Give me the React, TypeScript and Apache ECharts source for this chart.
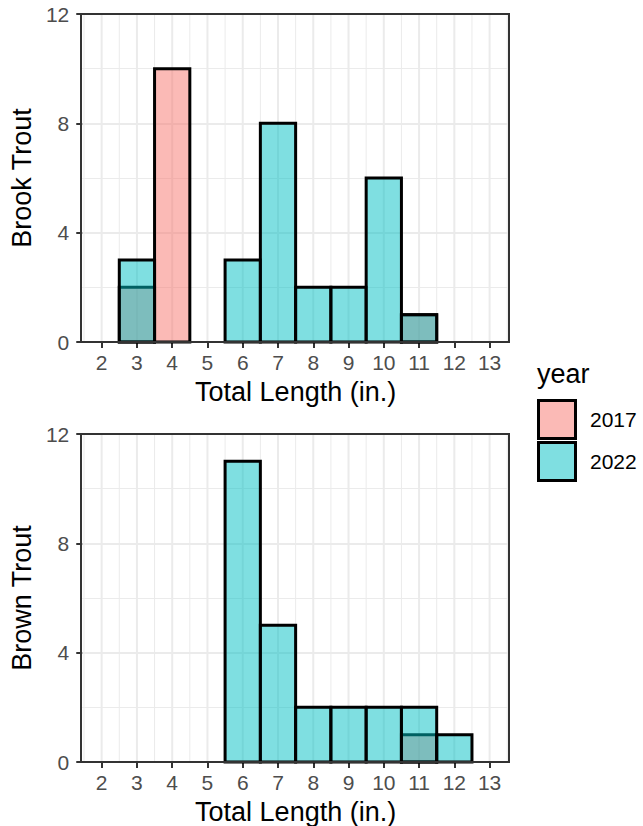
import React, { useEffect, useRef } from "react";
import * as echarts from "echarts";

// ---- data ----
const xTicks = [2, 3, 4, 5, 6, 7, 8, 9, 10, 11, 12, 13];
const xMinor = [1.5, 2.5, 3.5, 4.5, 5.5, 6.5, 7.5, 8.5, 9.5, 10.5, 11.5, 12.5, 13.5];
const yTicks = [0, 4, 8, 12];
const years = ["2017", "2022"];

const brookX2017 = [3, 4, 11];
const brookN2017 = [2, 10, 1];
const brookX2022 = [3, 6, 7, 8, 9, 10, 11];
const brookN2022 = [3, 3, 8, 2, 2, 6, 1];

const brownX2017 = [11];
const brownN2017 = [1];
const brownX2022 = [6, 7, 8, 9, 10, 11, 12];
const brownN2022 = [11, 5, 2, 2, 2, 2, 1];

const panels = ["Brook Trout", "Brown Trout"];

const FONT = "'Liberation Sans', Arial, sans-serif";
const FILL_2017 = "rgba(248,118,109,0.5)";
const FILL_2022 = "rgba(0,191,196,0.5)";
const X_MIN = 1.45;
const X_MAX = 13.55;
const Y_MIN = 0;
const Y_MAX = 12;

function zip(xs: number[], ns: number[]) {
  return xs.map((x, i) => [x, ns[i]]);
}

function barSeries(name: string, data: number[][], idx: number, fill: string, z: number) {
  return {
    type: "custom",
    name,
    xAxisIndex: idx,
    yAxisIndex: idx,
    z,
    silent: true,
    encode: { x: 0, y: 1 },
    data,
    renderItem: (_params: any, api: any) => {
      const x = api.value(0);
      const y = api.value(1);
      const p1 = api.coord([x - 0.5, y]);
      const p2 = api.coord([x + 0.5, 0]);
      return {
        type: "rect",
        shape: { x: p1[0], y: p1[1], width: p2[0] - p1[0], height: p2[1] - p1[1] },
        style: { fill, stroke: "#000000", lineWidth: 3 },
      };
    },
  };
}

function gridLineSeries(values: number[], idx: number, width: number) {
  return {
    type: "custom",
    xAxisIndex: idx,
    yAxisIndex: idx,
    z: 1,
    silent: true,
    encode: { x: 0 },
    data: values.map((v) => [v]),
    renderItem: (_params: any, api: any) => {
      const v = api.value(0);
      const a = api.coord([v, Y_MIN]);
      const b = api.coord([v, Y_MAX]);
      return {
        type: "line",
        shape: { x1: a[0], y1: a[1], x2: b[0], y2: b[1] },
        style: { stroke: "#EBEBEB", lineWidth: width },
      };
    },
  };
}

export default function App() {
  const ref = useRef<HTMLDivElement>(null);

  useEffect(() => {
    if (!ref.current) return;
    const chart = echarts.init(ref.current, null, { renderer: "svg" });

    const GRID_LEFT = 81;
    const GRID_W = 428;
    const GRID_H = 328;
    const gridTops = [14, 434];
    const grids = gridTops.map((top) => ({
      left: GRID_LEFT,
      top,
      width: GRID_W,
      height: GRID_H,
      show: false,
      containLabel: false,
    }));

    const xAxes = gridTops.map((_, i) => ({
      type: "value",
      gridIndex: i,
      min: X_MIN,
      max: X_MAX,
      name: "Total Length (in.)",
      nameLocation: "middle",
      nameGap: 36,
      nameTextStyle: { fontSize: 27, color: "#000000", fontFamily: FONT },
      axisLine: { show: false },
      axisTick: {
        show: true,
        customValues: xTicks,
        length: 6,
        lineStyle: { color: "#333333", width: 2 },
      },
      axisLabel: {
        customValues: xTicks,
        margin: 10,
        fontSize: 21,
        color: "#4D4D4D",
        fontFamily: FONT,
      },
      splitLine: { show: false },
    }));

    const yAxes = gridTops.map((_, i) => ({
      type: "value",
      gridIndex: i,
      min: Y_MIN,
      max: Y_MAX,
      interval: 4,
      name: panels[i],
      nameLocation: "middle",
      nameGap: 43,
      nameTextStyle: { fontSize: 27, color: "#000000", fontFamily: FONT },
      axisLine: { show: false },
      axisTick: { show: true, length: 6, lineStyle: { color: "#333333", width: 2 } },
      axisLabel: {
        margin: 13,
        fontSize: 21,
        color: "#4D4D4D",
        fontFamily: FONT,
        formatter: (v: number) => (yTicks.includes(v) ? String(v) : ""),
      },
      splitLine: { show: true, lineStyle: { color: "#EBEBEB", width: 2 } },
      minorTick: { show: false, splitNumber: 2 },
      minorSplitLine: { show: true, lineStyle: { color: "#EBEBEB", width: 1 } },
    }));

    const series: any[] = [];
    const sets = [
      [zip(brookX2017, brookN2017), zip(brookX2022, brookN2022)],
      [zip(brownX2017, brownN2017), zip(brownX2022, brownN2022)],
    ];
    sets.forEach((s, i) => {
      series.push(gridLineSeries(xMinor, i, 1));
      series.push(gridLineSeries(xTicks, i, 2));
      series.push(barSeries(years[0], s[0], i, FILL_2017, 2));
      series.push(barSeries(years[1], s[1], i, FILL_2022, 3));
    });

    const legendFills = [FILL_2017, FILL_2022];
    const legendTops = [399, 441];
    const graphic: any[] = [];
    gridTops.forEach((top) => {
      graphic.push({
        type: "rect",
        z: 100,
        silent: true,
        shape: { x: GRID_LEFT, y: top, width: GRID_W, height: GRID_H },
        style: { fill: "none", stroke: "#333333", lineWidth: 2 },
      });
    });
    graphic.push({
      type: "text",
      left: 537,
      top: 360,
      style: { text: "year", fontSize: 27, fill: "#000000", fontFamily: FONT },
    });
    years.forEach((y, i) => {
      graphic.push({
        type: "rect",
        shape: { x: 538.5, y: legendTops[i] + 1.5, width: 37, height: 38 },
        style: { fill: legendFills[i], stroke: "#000000", lineWidth: 3 },
      });
      graphic.push({
        type: "text",
        x: 590,
        y: legendTops[i] + 20.5,
        style: {
          text: y,
          fontSize: 21,
          fill: "#000000",
          fontFamily: FONT,
          verticalAlign: "middle",
        },
      });
    });

    chart.setOption({
      animation: false,
      backgroundColor: "#ffffff",
      textStyle: { fontFamily: FONT },
      grid: grids,
      xAxis: xAxes,
      yAxis: yAxes,
      series,
      graphic,
    });

    return () => chart.dispose();
  }, []);

  return (
    <div
      ref={ref}
      style={{ position: "fixed", left: 0, top: 0, width: 643, height: 826 }}
    />
  );
}
